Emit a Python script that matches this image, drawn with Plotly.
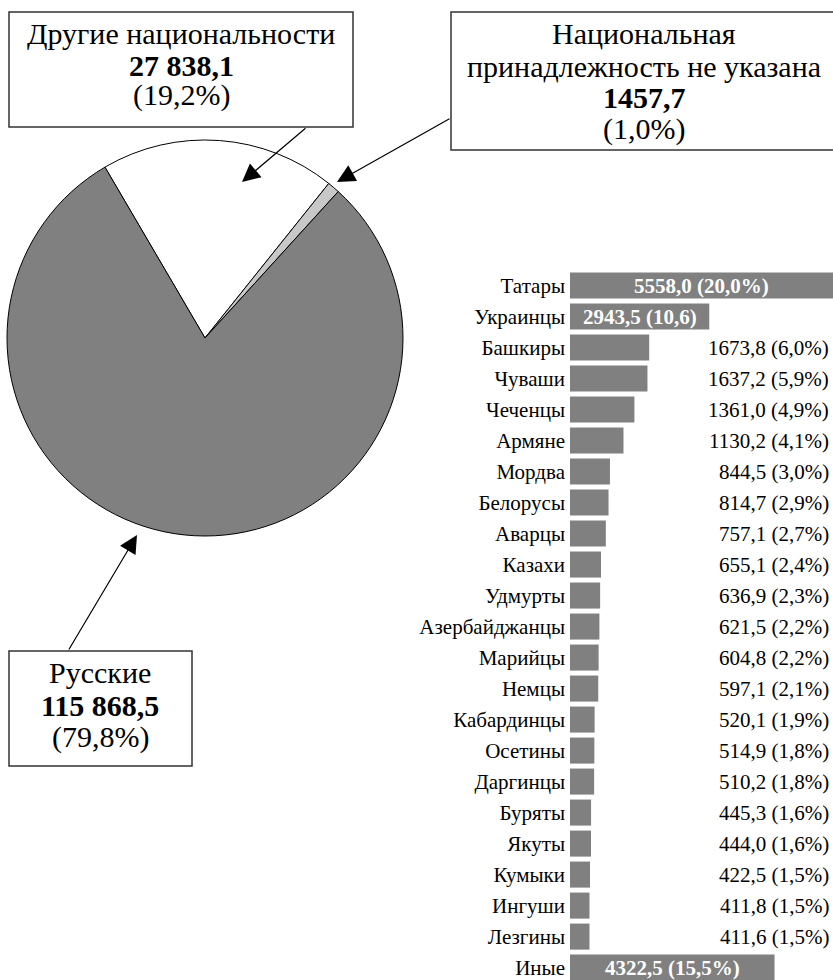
import plotly.graph_objects as go

W, H = 833, 980

# ---------------- data ----------------
pie_labels = ["Другие национальности", "Национальная принадлежность не указана", "Русские"]
pie_values = [27838.1, 1457.7, 115868.5]
pie_pct = ["19,2%", "1,0%", "79,8%"]
pie_value_text = ["27 838,1", "1457,7", "115 868,5"]

nations = ["Татары", "Украинцы", "Башкиры", "Чуваши", "Чеченцы", "Армяне", "Мордва",
           "Белорусы", "Аварцы", "Казахи", "Удмурты", "Азербайджанцы", "Марийцы", "Немцы",
           "Кабардинцы", "Осетины", "Даргинцы", "Буряты", "Якуты", "Кумыки", "Ингуши",
           "Лезгины", "Иные"]
nation_values = [5558.0, 2943.5, 1673.8, 1637.2, 1361.0, 1130.2, 844.5, 814.7, 757.1,
                 655.1, 636.9, 621.5, 604.8, 597.1, 520.1, 514.9, 510.2, 445.3, 444.0,
                 422.5, 411.8, 411.6, 4322.5]
nation_pct = ["20,0%", "10,6", "6,0%", "5,9%", "4,9%", "4,1%", "3,0%", "2,9%", "2,7%",
              "2,4%", "2,3%", "2,2%", "2,2%", "2,1%", "1,9%", "1,8%", "1,8%", "1,6%",
              "1,6%", "1,5%", "1,5%", "1,5%", "15,5%"]
inside_label = ["Татары", "Украинцы", "Иные"]

FONT = "Liberation Serif, Times New Roman, serif"


def px(x):
    return x / W


def py(y):
    return 1 - y / H


def fmt(v):
    return f"{v:.1f}".replace(".", ",")


fig = go.Figure()

# ---------------- pie ----------------
total = sum(pie_values)
rot = 42.3 - 360 * (pie_values[0] + pie_values[1]) / total
fig.add_trace(go.Pie(
    labels=pie_labels, values=pie_values, sort=False, direction="clockwise",
    rotation=rot, textinfo="none", hoverinfo="label+value",
    marker=dict(colors=["#ffffff", "#c8c8c8", "#808080"], line=dict(color="black", width=1)),
    domain=dict(x=[px(7), px(403)], y=[py(536), py(140)]),
    showlegend=False,
))

# ---------------- bars ----------------
fig.add_trace(go.Bar(
    x=nation_values, y=nations, orientation="h",
    marker=dict(color="#808080", line=dict(width=0)),
    xaxis="x", yaxis="y", showlegend=False, hoverinfo="x+y",
))

fig.update_layout(
    width=W, height=H, margin=dict(l=0, r=0, t=0, b=0),
    paper_bgcolor="white", plot_bgcolor="white",
    bargap=0.16,
    font=dict(family=FONT, color="black"),
    xaxis=dict(domain=[px(570), 1], range=[0, max(nation_values)], visible=False,
               fixedrange=True),
    yaxis=dict(domain=[0, py(270)], range=[22.4, -0.5], type="category",
               categoryorder="array", categoryarray=nations,
               showgrid=False, zeroline=False, showline=False, ticks="",
               ticklabelstandoff=4,
               tickfont=dict(family=FONT, size=21, color="black"), fixedrange=True),
)

ann = []
# bar value labels
for n, v, p in zip(nations, nation_values, nation_pct):
    txt = f"{fmt(v)} ({p})"
    if n in inside_label:
        ann.append(dict(x=v / 2, y=n, xref="x", yref="y", text=f"<b>{txt}</b>",
                        showarrow=False, xanchor="center", yanchor="middle",
                        font=dict(family=FONT, size=21, color="white")))
    else:
        ann.append(dict(x=1, y=n, xref="paper", yref="y", text=txt, xshift=-2,
                        showarrow=False, xanchor="right", yanchor="middle",
                        font=dict(family=FONT, size=21, color="black")))

# callout boxes
shapes = [
    dict(type="rect", xref="paper", yref="paper", x0=px(9), x1=px(353), y0=py(127), y1=py(12),
         line=dict(color="#333333", width=1.5), fillcolor="white", layer="above"),
    dict(type="rect", xref="paper", yref="paper", x0=px(451), x1=px(840), y0=py(150), y1=py(12),
         line=dict(color="#333333", width=1.5), fillcolor="white", layer="above"),
    dict(type="rect", xref="paper", yref="paper", x0=px(9), x1=px(192), y0=py(766), y1=py(651),
         line=dict(color="#333333", width=1.5), fillcolor="white", layer="above"),
]


def line_text(x, y, text, size=30, bold=False):
    t = f"<b>{text}</b>" if bold else text
    return dict(x=px(x), y=py(y), xref="paper", yref="paper", text=t, showarrow=False,
                xanchor="center", yanchor="middle",
                font=dict(family=FONT, size=size, color="black"))


ann += [
    line_text(181, 34, pie_labels[0]),
    line_text(181, 65, pie_value_text[0], bold=True),
    line_text(181, 95, f"({pie_pct[0]})"),
    line_text(644, 34, "Национальная"),
    line_text(644, 66, "принадлежность не указана"),
    line_text(644, 98, pie_value_text[1], bold=True),
    line_text(644, 129, f"({pie_pct[1]})"),
    line_text(100, 672, pie_labels[2]),
    line_text(100, 705, pie_value_text[2], bold=True),
    line_text(100, 737, f"({pie_pct[2]})"),
]


def arrow(tip, tail):
    return dict(x=px(tip[0]), y=py(tip[1]), xref="paper", yref="paper", text="",
                showarrow=True, ax=tail[0] - tip[0], ay=tail[1] - tip[1],
                axref="pixel", ayref="pixel", arrowhead=2, arrowsize=3,
                arrowwidth=1.2, arrowcolor="black", standoff=0, startstandoff=0)


ann += [
    arrow((242, 182), (307, 127)),
    arrow((337, 182), (451, 118)),
    arrow((137, 535), (68, 651)),
]

fig.update_layout(annotations=ann, shapes=shapes)
fig.write_html(
    "out.html",
    config={"displayModeBar": False},
    post_script="document.body.style.margin='0';document.body.style.overflow='hidden';",
)
